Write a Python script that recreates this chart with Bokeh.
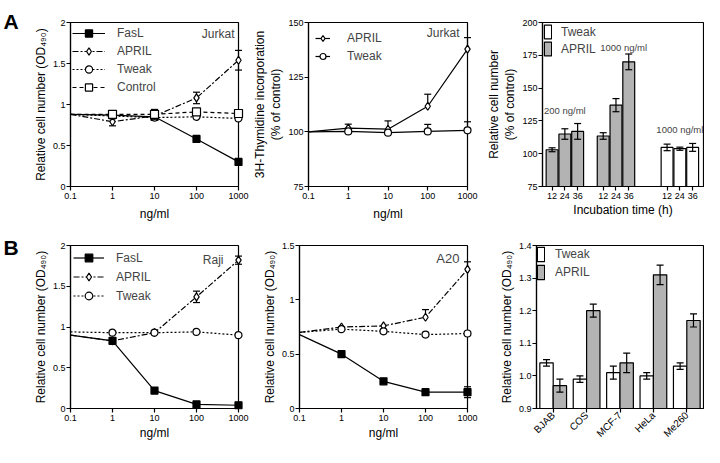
from bokeh.plotting import figure
from bokeh.layouts import row, column
from bokeh.models import (Range1d, FixedTicker, CustomJSTickFormatter, Legend, LegendItem,
                          Label, ColumnDataSource, FactorRange, PrintfTickFormatter)
from bokeh.transform import dodge
from bokeh.embed import file_html
from bokeh.resources import INLINE
from bokeh.core.properties import value

FONT = "Liberation Sans"

# ---------------- data ----------------
conc = [0.1, 1, 10, 100, 1000]
conc_ticks = [0.1, 1, 10, 100, 1000]

# A left (Jurkat, OD490)
a1_fasl = [0.88, 0.87, 0.85, 0.58, 0.30]
a1_fasl_err = [0, 0.02, 0.03, 0, 0]
a1_april = [0.88, 0.79, 0.86, 1.08, 1.54]
a1_april_err = [0, 0.05, 0.04, 0.07, 0.12]
a1_tweak = [0.88, 0.86, 0.84, 0.85, 0.83]
a1_tweak_err = [0, 0, 0, 0, 0]
a1_control = [0.88, 0.88, 0.88, 0.91, 0.89]
a1_control_err = [0, 0, 0.06, 0.02, 0]
a1_yticks = [0, 0.5, 1, 1.5, 2]

# A middle (Jurkat, 3H-thymidine, % of control)
a2_april = [100, 101.7, 101.2, 111.7, 137.8]
a2_april_err = [0, 1.8, 3.8, 5.5, 5.3]
a2_tweak = [100, 100.2, 99.6, 100.2, 100.7]
a2_tweak_err = [0, 0, 0, 3.2, 3.9]
a2_yticks = [75, 100, 125, 150]

# A right (bars, % of control)
a3_times = ["12", "24", "36"]
a3_april_200 = [103, 115, 117]
a3_april_200_err = [1.5, 4, 6]
a3_april_1000 = [113.5, 137, 170]
a3_april_1000_err = [2.5, 5, 6]
a3_tweak_1000 = [104.8, 103.8, 104.8]
a3_tweak_1000_err = [2.5, 1.2, 3]
a3_group_labels = ["200 ng/ml", "1000 ng/ml", "1000 ng/ml"]
a3_yticks = [75, 100, 125, 150, 175, 200]

# B left (Raji)
b1_fasl = [0.90, 0.83, 0.22, 0.05, 0.04]
b1_fasl_err = [0, 0, 0, 0, 0]
b1_april = [0.90, 0.83, 0.93, 1.37, 1.82]
b1_april_err = [0, 0, 0, 0.07, 0.05]
b1_tweak = [0.94, 0.93, 0.93, 0.94, 0.90]
b1_tweak_err = [0, 0, 0, 0, 0]
b1_yticks = [0, 0.5, 1, 1.5, 2]

# B middle (A20)
b2_fasl = [0.68, 0.50, 0.25, 0.15, 0.15]
b2_fasl_err = [0, 0, 0, 0, 0.05]
b2_april = [0.70, 0.75, 0.76, 0.84, 1.28]
b2_april_err = [0, 0, 0, 0.07, 0.07]
b2_tweak = [0.70, 0.73, 0.71, 0.68, 0.69]
b2_tweak_err = [0, 0, 0, 0, 0]
b2_yticks = [0, 0.5, 1, 1.5]

# B right (cell lines)
b3_cells = ["BJAB", "COS", "MCF-7", "HeLa", "Me260"]
b3_tweak = [1.04, 0.99, 1.01, 1.00, 1.03]
b3_tweak_err = [0.01, 0.01, 0.02, 0.01, 0.01]
b3_april = [0.97, 1.20, 1.04, 1.31, 1.17]
b3_april_err = [0.02, 0.02, 0.03, 0.03, 0.02]
b3_yticks = [0.9, 1.0, 1.1, 1.2, 1.3, 1.4]

# ---------------- layout ----------------
W1, W2, W3 = 249, 234, 221
BL1, BL2, BL3 = 70, 50, 53
BR1, BR2, BR3 = 11, 16, 1
HA, BTA, BBA = 232, 22, 46
HB, BTB, BBB = 215, 13, 39
GRAY = "#b3b3b3"


def style(p, label_standoff=5):
    p.background_fill_color = "white"
    p.border_fill_color = "white"
    p.outline_line_color = "black"
    p.outline_line_width = 1.2
    p.grid.visible = False
    for ax in p.axis:
        ax.axis_line_width = 1.2
        ax.axis_line_color = "black"
        ax.major_tick_line_width = 1.2
        ax.major_tick_out = 4
        ax.major_tick_in = 0
        ax.minor_tick_out = 0
        ax.minor_tick_in = 0
        ax.major_label_text_font = FONT
        ax.major_label_text_font_size = "9px"
        ax.major_label_text_color = "black"
        ax.major_label_standoff = 2
        ax.axis_label_text_font = FONT
        ax.axis_label_text_font_size = "12px"
        ax.axis_label_text_font_style = "normal"
        ax.axis_label_text_color = "black"
        ax.axis_label_standoff = 2
    p.yaxis.major_label_standoff = 1
    p.xaxis.axis_label_standoff = label_standoff


def log_fig(w, h, bl, br, bt, bb, yr, yticks, ylabel, xstand):
    p = figure(width=w, height=h, x_axis_type="log", x_range=Range1d(0.1, 1000),
               y_range=Range1d(*yr), min_border_left=bl, min_border_right=br,
               min_border_top=bt, min_border_bottom=bb,
               output_backend="svg", toolbar_location=None)
    p.xaxis.ticker = FixedTicker(ticks=conc_ticks, minor_ticks=[])
    p.xaxis.formatter = CustomJSTickFormatter(code="return tick.toString();")
    p.yaxis.ticker = FixedTicker(ticks=yticks, minor_ticks=[])
    p.yaxis.formatter = CustomJSTickFormatter(code="return tick.toString();")
    p.xaxis.axis_label = "ng/ml"
    p.yaxis.axis_label = ylabel
    style(p, xstand)
    return p


def errbars(p, xs, ys, errs, upper_only=False, cap=7):
    ex, y0, y1 = [], [], []
    for x, y, e in zip(xs, ys, errs):
        if e > 0:
            ex.append(x)
            y0.append(y if upper_only else y - e)
            y1.append(y + e)
    if not ex:
        return
    p.segment(ex, y0, ex, y1, line_color="black", line_width=1.2, level="overlay")
    p.scatter(ex, y1, marker="dash", size=cap, line_color="black", line_width=1.2, level="overlay")
    if not upper_only:
        p.scatter(ex, y0, marker="dash", size=cap, line_color="black", line_width=1.2, level="overlay")


def series(p, ys, errs, dash, marker, size, fill, label, upper_only=False):
    l = p.line(conc, ys, line_color="black", line_width=1.2, line_dash=dash)
    errbars(p, conc, ys, errs, upper_only)
    s = p.scatter(conc[1:], ys[1:], marker=marker, size=size, fill_color=fill,
                  line_color="black", line_width=1.2, level="overlay")
    return LegendItem(label=label, renderers=[l, s])


def legend(p, items, glyph_w, standoff, margin, padding, lh):
    lg = Legend(items=items, location="top_left", glyph_width=glyph_w, glyph_height=lh,
                label_height=lh, label_standoff=standoff, spacing=0, margin=margin,
                padding=padding, background_fill_alpha=0, border_line_alpha=0,
                label_text_font=FONT, label_text_font_size="12px")
    p.add_layout(lg)


def tag(p, x, y, text, dx, dy, size="12px"):
    p.add_layout(Label(x=x, y=y, text=text, text_align="right", text_baseline="top",
                       x_offset=dx, y_offset=dy, text_font=FONT, text_font_size=size))


def letter(p, text, x, y):
    p.text(x=[x], y=[y], text=[text], text_baseline="top", text_align="left",
           text_font=value(FONT), text_font_size="21px", text_font_style="bold",
           text_color="black", level="overlay")


OD = "Relative cell number (OD\u2084\u2089\u2080)"

# ---- A1 ----
p1 = log_fig(W1, HA, BL1, BR1, BTA, BBA, (0, 2), a1_yticks, OD, 5)
it = [series(p1, a1_fasl, a1_fasl_err, "solid", "square", 7, "black", "FasL"),
      series(p1, a1_april, a1_april_err, "6 2 2 2", "diamond", 8, "white", "APRIL"),
      series(p1, a1_tweak, a1_tweak_err, "2 2", "circle", 7, "white", "Tweak"),
      series(p1, a1_control, a1_control_err, "4 3", "square", 8, "white", "Control")]
legend(p1, it, 33, 12, 1, 1, 18)
tag(p1, 1000, 2, "Jurkat", -4, -4)
letter(p1, "A", 10 ** (-1 - 67 / 42), 2 + 13 * 2 / 164)

# ---- A2 ----
p2 = log_fig(W2, HA, BL2, BR2, BTA, BBA, (75, 150), a2_yticks,
             "3H-Thymidine incorporation\n(% of control)", 5)
it = [series(p2, a2_april, a2_april_err, "solid", "diamond", 8, "white", "APRIL", True),
      series(p2, a2_tweak, a2_tweak_err, "solid", "circle", 7, "white", "Tweak", True)]
legend(p2, it, 15, 17, 5, 2, 18)
tag(p2, 1000, 150, "Jurkat", -8, -3)

# ---- A3 ----
group_start = [0, 4, 9]
xs_all = [g + i for g in group_start for i in range(len(a3_times))]
p3 = figure(width=W3, height=HA, x_range=Range1d(-0.75, 11.85), y_range=Range1d(75, 200),
            min_border_left=BL3, min_border_right=BR3, min_border_top=BTA, min_border_bottom=BBA,
            output_backend="svg", toolbar_location=None)
p3.xaxis.ticker = FixedTicker(ticks=xs_all, minor_ticks=[])
p3.xaxis.major_label_overrides = {x: a3_times[i % 3] for i, x in enumerate(xs_all)}
p3.yaxis.ticker = FixedTicker(ticks=a3_yticks, minor_ticks=[])
p3.xaxis.axis_label = "Incubation time (h)"
p3.yaxis.axis_label = "Relative cell number\n(% of control)"
style(p3, 1)
april_x = xs_all[:6]
april_v = a3_april_200 + a3_april_1000
april_e = a3_april_200_err + a3_april_1000_err
tweak_x = xs_all[6:]
rt = p3.vbar(x=tweak_x, top=a3_tweak_1000, bottom=75, width=0.93, fill_color="white",
             line_color="black", line_width=1.2)
ra = p3.vbar(x=april_x, top=april_v, bottom=75, width=0.93, fill_color=GRAY,
             line_color="black", line_width=1.2)
errbars(p3, april_x, april_v, april_e)
errbars(p3, tweak_x, a3_tweak_1000, a3_tweak_1000_err)
lg = [LegendItem(label="Tweak", renderers=[rt]), LegendItem(label="APRIL", renderers=[ra])]
legend(p3, lg, 9, 9, 0, 1, 17)
label_pos = [(1, 133), (5.6, 181), (10, 118.5)]
for (lx, ly), txt in zip(label_pos, a3_group_labels):
    p3.add_layout(Label(x=lx, y=ly, text=txt, text_align="center", text_baseline="middle",
                        text_font=FONT, text_font_size="9.5px"))

# ---- B1 ----
p4 = log_fig(W1, HB, BL1, BR1, BTB, BBB, (0, 2), b1_yticks, OD, 2)
i_april = series(p4, b1_april, b1_april_err, "6 2 2 2", "diamond", 8, "white", "APRIL")
i_tweak = series(p4, b1_tweak, b1_tweak_err, "2 2", "circle", 7, "white", "Tweak")
i_fasl = series(p4, b1_fasl, b1_fasl_err, "solid", "square", 7, "black", "FasL")
legend(p4, [i_fasl, i_april, i_tweak], 31, 12, 1, 2, 19)
tag(p4, 1000, 2, "Raji", -15, -7)
letter(p4, "B", 10 ** (-1 - 67 / 42), 2 + 10 * 2 / 163)

# ---- B2 ----
p5 = log_fig(W2, HB, BL2, BR2, BTB, BBB, (0, 1.5), b2_yticks, OD, 2)
series(p5, b2_april, b2_april_err, "6 2 2 2", "diamond", 8, "white", "APRIL", True)
series(p5, b2_tweak, b2_tweak_err, "2 2", "circle", 7, "white", "Tweak")
series(p5, b2_fasl, b2_fasl_err, "solid", "square", 7, "black", "FasL")
tag(p5, 1000, 1.5, "A20", -8, -5, "13px")

# ---- B3 ----
p6 = figure(width=W3, height=HB, x_range=FactorRange(factors=b3_cells), y_range=Range1d(0.9, 1.4),
            min_border_left=BL3, min_border_right=BR3, min_border_top=BTB, min_border_bottom=BBB,
            output_backend="svg", toolbar_location=None)
p6.yaxis.ticker = FixedTicker(ticks=b3_yticks, minor_ticks=[])
p6.yaxis.formatter = PrintfTickFormatter(format="%.1f")
p6.yaxis.axis_label = OD
style(p6)
p6.xaxis.major_label_orientation = 0.785
p6.xaxis.major_label_text_font_size = "10px"
p6.xaxis.major_label_standoff = 1
src = ColumnDataSource(dict(cell=b3_cells, tw=b3_tweak, ap=b3_april,
                            tw_lo=[v - e for v, e in zip(b3_tweak, b3_tweak_err)],
                            tw_hi=[v + e for v, e in zip(b3_tweak, b3_tweak_err)],
                            ap_lo=[v - e for v, e in zip(b3_april, b3_april_err)],
                            ap_hi=[v + e for v, e in zip(b3_april, b3_april_err)]))
xt = dodge("cell", -0.2, range=p6.x_range)
xa = dodge("cell", 0.2, range=p6.x_range)
rt6 = p6.vbar(x=xt, top="tw", bottom=0.9, width=0.4, source=src, fill_color="white",
              line_color="black", line_width=1.2)
ra6 = p6.vbar(x=xa, top="ap", bottom=0.9, width=0.4, source=src, fill_color=GRAY,
              line_color="black", line_width=1.2)
for xx, lo, hi in [(xt, "tw_lo", "tw_hi"), (xa, "ap_lo", "ap_hi")]:
    p6.segment(x0=xx, y0=lo, x1=xx, y1=hi, source=src, line_color="black", line_width=1.2)
    p6.scatter(x=xx, y=lo, source=src, marker="dash", size=7, line_color="black", line_width=1.2)
    p6.scatter(x=xx, y=hi, source=src, marker="dash", size=7, line_color="black", line_width=1.2)
lg = [LegendItem(label="Tweak", renderers=[rt6]), LegendItem(label="APRIL", renderers=[ra6])]
legend(p6, lg, 9, 10, 0, 0, 18)

layout = column(row(p1, p2, p3), row(p4, p5, p6))
open("out.html", "w").write(file_html(layout, INLINE))
